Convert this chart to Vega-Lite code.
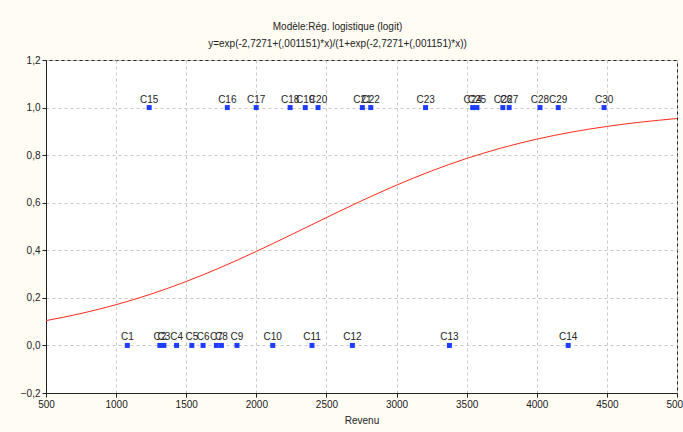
{
  "$schema": "https://vega.github.io/schema/vega-lite/v6.json",
  "autosize": {"type": "none"},
  "width": 631,
  "height": 333,
  "padding": {"left": 46, "top": 60, "right": 6, "bottom": 39},
  "background": "#FFFCF4",
  "config": {
    "view": {"fill": "white", "stroke": "#222222", "strokeWidth": 1},
    "font": "'Liberation Sans Narrow', 'Liberation Sans', sans-serif",
    "axis": {
      "labelFont": "'Liberation Sans Narrow', 'Liberation Sans', sans-serif",
      "titleFont": "'Liberation Sans Narrow', 'Liberation Sans', sans-serif",
      "labelFontSize": 10,
      "titleFontSize": 10,
      "titleFontWeight": "normal",
      "labelColor": "#222222",
      "titleColor": "#222222",
      "domainColor": "#222222",
      "tickColor": "#222222",
      "tickSize": 4,
      "gridColor": "#C8C8C8",
      "gridDash": [3, 3],
      "gridWidth": 1
    }
  },
  "title": {
    "text": ["Modèle:Rég. logistique (logit)", "y=exp(-2,7271+(,001151)*x)/(1+exp(-2,7271+(,001151)*x))"],
    "fontSize": 10,
    "fontWeight": "normal",
    "color": "#222222",
    "font": "'Liberation Sans Narrow', 'Liberation Sans', sans-serif",
    "anchor": "middle",
    "dx": -24,
    "offset": 6,
    "lineHeight": 17
  },
  "datasets": {
    "obs": [
      {"name": "C1", "revenu": 1080, "y": 0},
      {"name": "C2", "revenu": 1312, "y": 0},
      {"name": "C3", "revenu": 1341, "y": 0},
      {"name": "C4", "revenu": 1431, "y": 0},
      {"name": "C5", "revenu": 1540, "y": 0},
      {"name": "C6", "revenu": 1620, "y": 0},
      {"name": "C7", "revenu": 1715, "y": 0},
      {"name": "C8", "revenu": 1751, "y": 0},
      {"name": "C9", "revenu": 1862, "y": 0},
      {"name": "C10", "revenu": 2117, "y": 0},
      {"name": "C11", "revenu": 2397, "y": 0},
      {"name": "C12", "revenu": 2685, "y": 0},
      {"name": "C13", "revenu": 3377, "y": 0},
      {"name": "C14", "revenu": 4224, "y": 0},
      {"name": "C15", "revenu": 1236, "y": 1},
      {"name": "C16", "revenu": 1793, "y": 1},
      {"name": "C17", "revenu": 1999, "y": 1},
      {"name": "C18", "revenu": 2241, "y": 1},
      {"name": "C19", "revenu": 2349, "y": 1},
      {"name": "C20", "revenu": 2440, "y": 1},
      {"name": "C21", "revenu": 2756, "y": 1},
      {"name": "C22", "revenu": 2816, "y": 1},
      {"name": "C23", "revenu": 3207, "y": 1},
      {"name": "C24", "revenu": 3543, "y": 1},
      {"name": "C25", "revenu": 3573, "y": 1},
      {"name": "C26", "revenu": 3758, "y": 1},
      {"name": "C27", "revenu": 3803, "y": 1},
      {"name": "C28", "revenu": 4023, "y": 1},
      {"name": "C29", "revenu": 4153, "y": 1},
      {"name": "C30", "revenu": 4480, "y": 1}
    ],
    "curve": [
      {"revenu": 500, "p": 0.10416},
      {"revenu": 750, "p": 0.13425},
      {"revenu": 1000, "p": 0.17135},
      {"revenu": 1250, "p": 0.21613},
      {"revenu": 1500, "p": 0.26883},
      {"revenu": 1750, "p": 0.32897},
      {"revenu": 2000, "p": 0.39530},
      {"revenu": 2250, "p": 0.46572},
      {"revenu": 2500, "p": 0.53753},
      {"revenu": 2750, "p": 0.60782},
      {"revenu": 3000, "p": 0.67391},
      {"revenu": 3250, "p": 0.73373},
      {"revenu": 3500, "p": 0.78607},
      {"revenu": 3750, "p": 0.83050},
      {"revenu": 4000, "p": 0.86725},
      {"revenu": 4250, "p": 0.89703},
      {"revenu": 4500, "p": 0.92074},
      {"revenu": 4750, "p": 0.93935},
      {"revenu": 5000, "p": 0.95382}
    ]
  },
  "encoding": {
    "x": {
      "field": "revenu",
      "type": "quantitative",
      "title": "Revenu",
      "scale": {"domain": [500, 5000], "nice": false, "zero": false},
      "axis": {"values": [500, 1000, 1500, 2000, 2500, 3000, 3500, 4000, 4500, 5000], "format": "d", "labelFlush": false, "titlePadding": 6}
    }
  },
  "layer": [
    {
      "data": {"name": "curve"},
      "mark": {"type": "line", "color": "#FF2A1A", "strokeWidth": 1, "interpolate": "monotone"},
      "encoding": {
        "y": {
          "field": "p",
          "type": "quantitative",
          "title": null,
          "scale": {"domain": [-0.2, 1.2], "nice": false, "zero": false},
          "axis": {"values": [-0.2, 0, 0.2, 0.4, 0.6, 0.8, 1.0, 1.2], "labelExpr": "replace(format(datum.value, '.1f'), '.', ',')", "labelFlush": false}
        }
      }
    },
    {
      "data": {"name": "obs"},
      "mark": {"type": "point", "shape": "square", "filled": true, "size": 25, "color": "#1E3CFF", "opacity": 1},
      "encoding": {
        "y": {"field": "y", "type": "quantitative"}
      }
    },
    {
      "data": {"name": "obs"},
      "mark": {"type": "text", "baseline": "bottom", "dy": -3, "fontSize": 10, "color": "#222222"},
      "encoding": {
        "y": {"field": "y", "type": "quantitative"},
        "text": {"field": "name"}
      }
    }
  ]
}
